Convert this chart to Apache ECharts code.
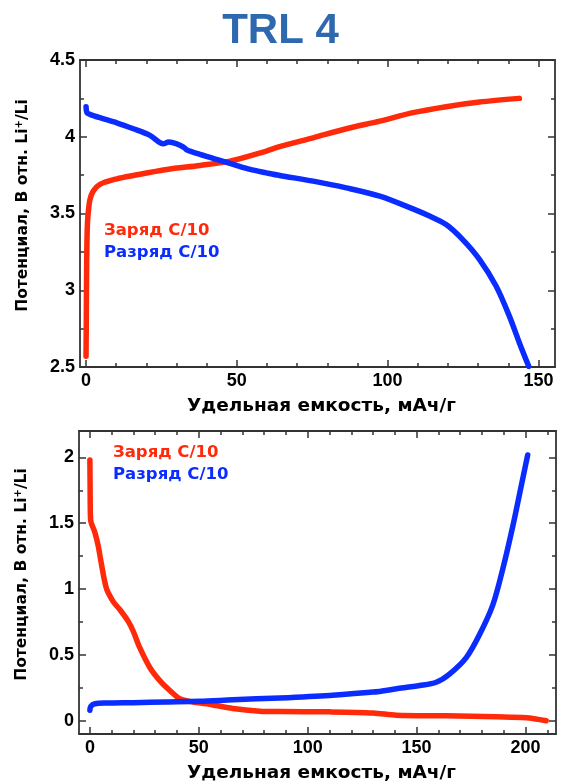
<!DOCTYPE html>
<html>
<head>
<meta charset="utf-8">
<script src="https://cdn.jsdelivr.net/npm/echarts@6/dist/echarts.min.js"></script>
<style>
html,body{margin:0;padding:0;background:#fff;}
#c{width:561px;height:784px;}
</style>
</head>
<body>
<div id="c"></div>
<script>
// ---- Data ----
const titleText = 'TRL 4';
const xAxisName = 'Удельная емкость, мАч/г';
const yAxisName = 'Потенциал, В отн. Li{sup|+}/Li';
const seriesNames = ['Заряд С/10', 'Разряд С/10'];

// Top panel (cathode)
const topXTicks = [0, 50, 100, 150];
const topXMinor = [10, 20, 30, 40, 60, 70, 80, 90, 110, 120, 130, 140];
const topYTicks = [2.5, 3, 3.5, 4, 4.5];
const topYMinor = [2.75, 3.25, 3.75, 4.25];

const topChargeX = [0, 0.1, 0.2, 0.4, 0.7, 1.3, 2.4, 4.6, 10.2, 15.7, 26.8, 37.8, 47.7, 59.8, 64.2, 75.3, 86.3, 97.4, 108.4, 119.4, 130.5, 143.7];
const topChargeY = [2.57, 2.83, 3.16, 3.40, 3.50, 3.59, 3.646, 3.69, 3.726, 3.748, 3.787, 3.813, 3.841, 3.907, 3.935, 3.993, 4.052, 4.102, 4.157, 4.196, 4.226, 4.25];

const topDischargeX = [0, 0.3, 1.3, 4.6, 10.2, 15.7, 21.2, 25.6, 27.4, 30.1, 32.3, 33.5, 37.8, 43.3, 48.8, 54.4, 59.8, 64.2, 75.3, 86.3, 97.4, 108.4, 113.9, 119.4, 124.9, 130.5, 136.0, 140.4, 143.7, 146.8];
const topDischargeY = [4.196, 4.157, 4.146, 4.124, 4.091, 4.052, 4.009, 3.954, 3.965, 3.954, 3.933, 3.913, 3.885, 3.852, 3.820, 3.787, 3.765, 3.748, 3.711, 3.667, 3.613, 3.53, 3.483, 3.428, 3.33, 3.2, 3.026, 2.83, 2.657, 2.504];

// Bottom panel (anode)
const botXTicks = [0, 50, 100, 150, 200];
const botXMinor = [10, 20, 30, 40, 60, 70, 80, 90, 110, 120, 130, 140, 160, 170, 180, 190, 210];
const botYTicks = [0, 0.5, 1, 1.5, 2];
const botYMinor = [0.25, 0.75, 1.25, 1.75];

const botChargeX = [0, 0.1, 0.3, 2.3, 3.8, 5.4, 7.6, 10.7, 13.8, 17.6, 19.9, 22.9, 27.5, 32.1, 36.7, 41.3, 47.4, 53.5, 65.7, 78, 87.2, 110, 130, 140.7, 163.6, 186.6, 200.3, 209.5];
const botChargeY = [1.98, 1.78, 1.53, 1.43, 1.33, 1.18, 1.005, 0.905, 0.843, 0.755, 0.68, 0.555, 0.405, 0.305, 0.23, 0.168, 0.143, 0.13, 0.093, 0.073, 0.07, 0.068, 0.06, 0.043, 0.038, 0.03, 0.023, 0.0];

const botDischargeX = [0, 0.4, 2.3, 7.6, 19.9, 35.2, 50.5, 65.7, 87.2, 110, 130, 140.7, 151.4, 159, 165.1, 172.8, 178.9, 185, 189.6, 194.2, 198, 201];
const botDischargeY = [0.08, 0.11, 0.13, 0.135, 0.138, 0.143, 0.148, 0.16, 0.174, 0.193, 0.218, 0.243, 0.268, 0.293, 0.355, 0.48, 0.655, 0.88, 1.155, 1.48, 1.78, 2.018];

// ---- Styles ----
const RED = '#ff2a0a';
const BLUE = '#0a2cff';
const AXIS_COLOR = '#333';
const FONT = 'Liberation Sans, Arial, Helvetica, sans-serif';
const CYR_FONT = 'DejaVu Sans, Liberation Sans, sans-serif';

function zip(xs, ys) { return xs.map((x, i) => [x, ys[i]]); }

function makeAxes(kind, grid, min, max, majors, minors, withLabels) {
  const posA = kind === 'x' ? 'bottom' : 'left';
  const posB = kind === 'x' ? 'top' : 'right';
  const base = {
    type: 'value', gridIndex: grid, min: min, max: max,
    splitLine: { show: false },
    axisLine: { show: true, onZero: false, lineStyle: { color: AXIS_COLOR, width: 1.8 } },
    axisTick: { show: true, inside: true, length: 7, customValues: majors, lineStyle: { color: AXIS_COLOR, width: 1.5 } },
    axisLabel: { show: false }
  };
  const main = Object.assign({}, base, {
    position: posA,
    axisLabel: {
      show: withLabels, customValues: majors, color: '#000', fontFamily: FONT,
      fontWeight: 'bold', fontSize: 18, margin: 5
    }
  });
  if (kind === 'x') {
    main.name = xAxisName;
    main.nameLocation = 'middle';
    main.nameGap = 30;
    main.nameTextStyle = { color: '#000', fontFamily: CYR_FONT, fontWeight: 'bold', fontSize: 18.5, padding: [0, 0, 0, 8] };
  } else {
    main.name = yAxisName;
    main.nameLocation = 'middle';
    main.nameGap = 48;
    main.nameTextStyle = {
      color: '#000', fontFamily: CYR_FONT, fontWeight: 'bold', fontSize: 15.5, padding: [0, 0, 0, 16],
      rich: { sup: { fontSize: 10, fontWeight: 'bold', fontFamily: CYR_FONT, color: '#000', padding: [0, 0, 8, 0] } }
    };
  }
  const noLine = { show: false, onZero: false };
  const minorTick = { show: true, inside: true, length: 4, customValues: minors, lineStyle: { color: AXIS_COLOR, width: 1.5 } };
  const mainMinor = Object.assign({}, base, { position: posA, axisLine: noLine, axisTick: minorTick });
  const opp = Object.assign({}, base, { position: posB });
  const oppMinor = Object.assign({}, base, { position: posB, axisLine: noLine, axisTick: minorTick });
  return [main, mainMinor, opp, oppMinor];
}

const xAxes = [].concat(
  makeAxes('x', 0, -2, 155.5, topXTicks, topXMinor, true),
  makeAxes('x', 1, -5, 214, botXTicks, botXMinor, true)
);
const yAxes = [].concat(
  makeAxes('y', 0, 2.5, 4.5, topYTicks, topYMinor, true),
  makeAxes('y', 1, -0.1, 2.2, botYTicks, botYMinor, true)
);

function line(name, data, color, xi, yi) {
  return {
    name: name, type: 'line', data: data, xAxisIndex: xi, yAxisIndex: yi,
    showSymbol: false, symbol: 'none', smooth: 0.3, clip: true,
    lineStyle: { color: color, width: 5.5, cap: 'round', join: 'round' },
    itemStyle: { color: color }, animation: false
  };
}

const legendFont = 'bold 16.5px ' + CYR_FONT;
const chart = echarts.init(document.getElementById('c'), null, { renderer: 'canvas' });
chart.setOption({
  animation: false,
  backgroundColor: '#fff',
  title: {
    text: titleText, left: 'center', top: 5,
    textStyle: { color: '#2e68ae', fontFamily: FONT, fontWeight: 'bold', fontSize: 42 }
  },
  grid: [
    { left: 80, top: 60, right: 6, height: 307 },
    { left: 79, top: 431, right: 5, height: 306 }
  ],
  xAxis: xAxes,
  yAxis: yAxes,
  graphic: [
    { type: 'text', left: 104, top: 222, style: { text: seriesNames[0], fill: RED, font: legendFont } },
    { type: 'text', left: 104, top: 244, style: { text: seriesNames[1], fill: BLUE, font: legendFont } },
    { type: 'text', left: 113, top: 444, style: { text: seriesNames[0], fill: RED, font: legendFont } },
    { type: 'text', left: 113, top: 466, style: { text: seriesNames[1], fill: BLUE, font: legendFont } }
  ],
  series: [
    line(seriesNames[0], zip(topChargeX, topChargeY), RED, 0, 0),
    line(seriesNames[1], zip(topDischargeX, topDischargeY), BLUE, 0, 0),
    line(seriesNames[0], zip(botChargeX, botChargeY), RED, 4, 4),
    line(seriesNames[1], zip(botDischargeX, botDischargeY), BLUE, 4, 4)
  ]
});
</script>
</body>
</html>
